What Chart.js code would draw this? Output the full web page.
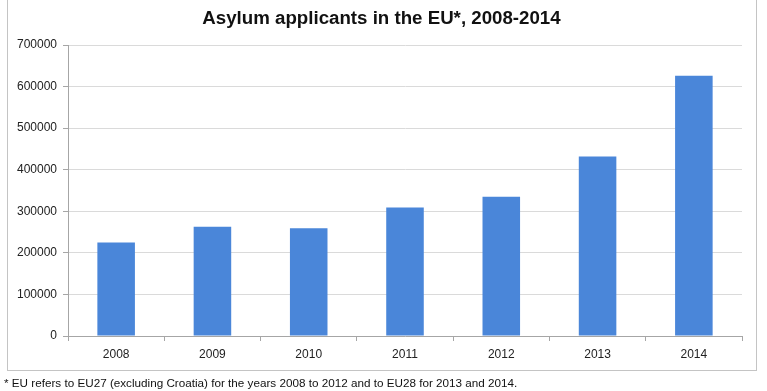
<!DOCTYPE html>
<html>
<head>
<meta charset="utf-8">
<script src="https://cdn.jsdelivr.net/npm/chart.js@4/dist/chart.umd.min.js"></script>
<style>
  html, body { margin:0; padding:0; background:#fff; }
  #wrap { position:relative; width:767px; height:391px; overflow:hidden; }
  #frame { position:absolute; left:7px; top:-2px; width:748px; height:371px; border:1px solid #c4c4c4; pointer-events:none; }
  #chart { position:absolute; left:0; top:0; }
  #title { position:absolute; left:0; width:763px; text-align:center; top:7px; font:bold 18.7px "Liberation Sans", Arial, sans-serif; color:#111; padding-left:0; }
  #note { position:absolute; left:4px; top:376px; font:11.7px "Liberation Sans", Arial, sans-serif; color:#111; white-space:nowrap; }
</style>
</head>
<body>
<div id="wrap">
  <canvas id="chart" width="767" height="372"></canvas>
  <div id="frame"></div>
  <div id="title">Asylum applicants in the EU*, 2008-2014</div>
  <div id="note">* EU refers to EU27 (excluding Croatia) for the years 2008 to 2012 and to EU28 for 2013 and 2014.</div>
</div>
<script>
// ================= DATA =================
const years = ["2008","2009","2010","2011","2012","2013","2014"];
const applicants = [225000, 263000, 259000, 309000, 335000, 432000, 626000];
const yTicks = [0, 100000, 200000, 300000, 400000, 500000, 600000, 700000];

const chart = new Chart(document.getElementById("chart"), {
  type: "bar",
  data: {
    labels: years,
    datasets: [{
      label: "Asylum applicants",
      data: applicants,
      backgroundColor: "#4a86d9",
      borderWidth: 0,
      barPercentage: 0.39,
      categoryPercentage: 1
    }]
  },
  options: {
    responsive: false,
    animation: false,
    // title lives in the html above, top padding leaves room for it
    layout: { padding: { left: 0, right: 25, top: 45, bottom: 0 } },
    plugins: {
      legend: { display: false },
      tooltip: { enabled: false },
      title: { display: false }
    },
    scales: {
      x: {
        offset: true,
        grid: { offset: true, drawOnChartArea: false, drawTicks: true, tickLength: 5, color: "#a6a6a6" },
        border: { color: "#a6a6a6" },
        ticks: { color: "#222", padding: 6, font: { family: "Liberation Sans", size: 12 } },
        afterFit: s => { s.height = 36; }
      },
      y: {
        min: 0,
        max: 700000,
        afterBuildTicks: s => { s.ticks = yTicks.map(v => ({ value: v })); },
        grid: { color: "#dadada", tickColor: "#a6a6a6", tickLength: 5 },
        border: { color: "#a6a6a6" },
        ticks: {
          color: "#222", padding: 6, font: { family: "Liberation Sans", size: 12 },
          callback: v => String(v)
        },
        afterFit: s => { s.width = 68; }
      }
    }
  }
});
</script>
</body>
</html>
